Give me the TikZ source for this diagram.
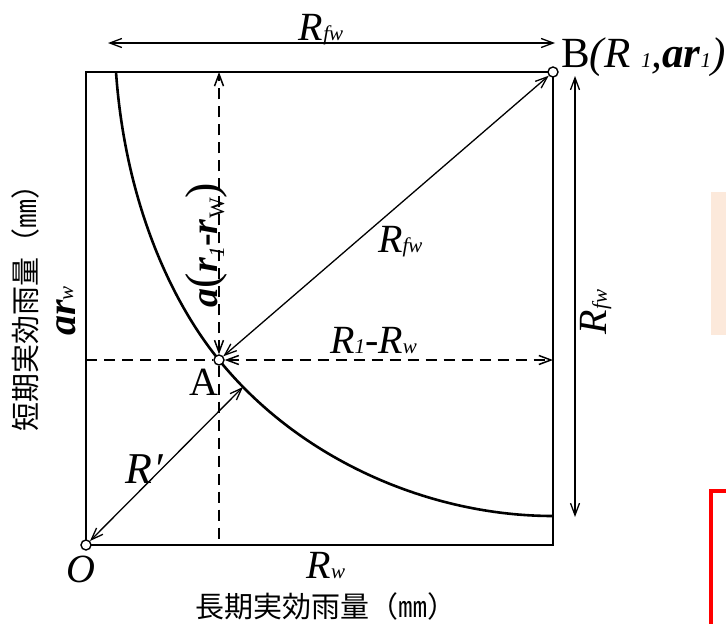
\documentclass[tikz,border=0pt]{standalone}
\usepackage{fontspec}
\setmainfont{Liberation Serif}
\newfontfamily\cjk{Noto Sans CJK JP}
\usetikzlibrary{arrows.meta}
% 小号下标（与基线齐平）和下沉下标
\newcommand{\sbs}[1]{{\fontsize{21}{21}\selectfont #1}}
\newcommand{\lsb}[1]{\raisebox{-7pt}{\fontsize{22}{22}\selectfont #1}}
\tikzset{
  frame line/.style={
    line width=2.4pt,
    color=black
  },
  curve line/.style={
    line width=2.6pt,
    color=black
  },
  dim arrow/.style={
    <->,
    line width=1.3pt
  },
  guide line/.style={
    dash pattern=on 11pt off 7pt,
    line width=1.5pt
  },
  point dot/.style={
    circle,
    draw,
    fill=white,
    line width=1.4pt,
    inner sep=0pt,
    minimum size=10pt
  },
  math label/.style={
    inner sep=0pt,
    font=\fontsize{40}{44}\selectfont
  },
  axis label/.style={
    inner sep=0pt,
    font=\cjk\fontsize{29}{32}\selectfont
  }
}
\definecolor{paleorange}{RGB}{252,233,219}

\begin{document}
\begin{tikzpicture}[x=1pt, y=-1pt, >={Straight Barb[length=12pt,width=9pt]}]
    % 画面范围：1单位 = 1像素，y 轴向下
    \useasboundingbox (0,0) rectangle (726,624);

    % 右侧被截断的色块
    \fill[paleorange] (711,192) rectangle (740,335);
    \draw[red, line width=4.5pt] (711,650) -- (711,491) -- (740,491);

    % 外框与曲线
    \draw[frame line] (86,545) rectangle (553,72);
    \draw[curve line] (116,72) .. controls (125,200) and (170,300) .. (219,360)
                      .. controls (300,460) and (430,516) .. (553,516);

    % 三个端点
    \node[point dot] (O) at (86,545) {};
    \node[point dot] (A) at (219,360) {};
    \node[point dot] (B) at (553,72) {};

    % 辅助点
    \coordinate (At) at (219,72);
    \coordinate (Ab) at (219,545);
    \coordinate (Al) at (86,360);
    \coordinate (Ar) at (553,360);
    \coordinate (Rp) at (243,387);
    \coordinate (Tl) at (108,43);
    \coordinate (Tr) at (555,43);
    \coordinate (Vt) at (575,76);
    \coordinate (Vb) at (575,517);

    % 过 A 的虚线
    \draw[guide line] (Al) -- (A);
    \draw[guide line] (A) -- (Ab);
    \draw[guide line, <->] (A) -- (Ar);
    \draw[guide line, <->] (A) -- (At);

    % 尺寸箭头
    \draw[dim arrow] (Tl) -- (Tr);
    \draw[dim arrow] (Vt) -- (Vb);
    \draw[dim arrow] (A) -- (B);
    \draw[dim arrow] (O) -- (Rp);

    % 标注
    \node[math label, anchor=base] (lblTop) at (321,40) {\textit{R\sbs{fw}}};
    \node[math label, anchor=base west, font=\fontsize{43}{46}\selectfont] (lblB) at (561,67)
      {B\textit{(R \sbs{1},\textbf{ar}\sbs{1})}};
    \node[math label, anchor=base west] (lblDiag) at (378,252) {\textit{R\sbs{fw}}};
    \node[math label, anchor=base west] (lblDx) at (330,353) {\textit{R\sbs{1}-R\sbs{w}}};
    \node[math label, rotate=90] (lblRight) at (596,312) {\textit{R\sbs{fw}}};
    \node[math label, rotate=90, font=\fontsize{38}{42}\selectfont] (lblDy) at (206,245)
      {\textbf{\textit{a}}{\fontsize{46}{46}\selectfont(}\textbf{\textit{r}}\lsb{\textit{1}}\textbf{-}\textbf{\textit{r}}\lsb{W}{\fontsize{46}{46}\selectfont)}};
    \node[math label, rotate=90] (lblArw) at (66,311) {\textbf{\textit{ar}}\raisebox{2pt}{\sbs{\textit{w}}}};
    \node[math label, anchor=base] (lblA) at (204,395) {A};
    \node[math label, anchor=base west, font=\fontsize{44}{46}\selectfont] (lblRp) at (125,483) {\textit{R}\kern1pt\textit{′}};
    \node[math label, anchor=base] (lblO) at (81,582) {\textit{O}};
    \node[math label, anchor=base] (lblRw) at (326,578) {\textit{R\sbs{w}}};

    % 坐标轴名称
    \node[axis label] (xname) at (326,606) {長期実効雨量（㎜）};
    \node[axis label, rotate=90] (yname) at (25,301) {短期実効雨量（㎜）};

  \end{tikzpicture}
\end{document}
